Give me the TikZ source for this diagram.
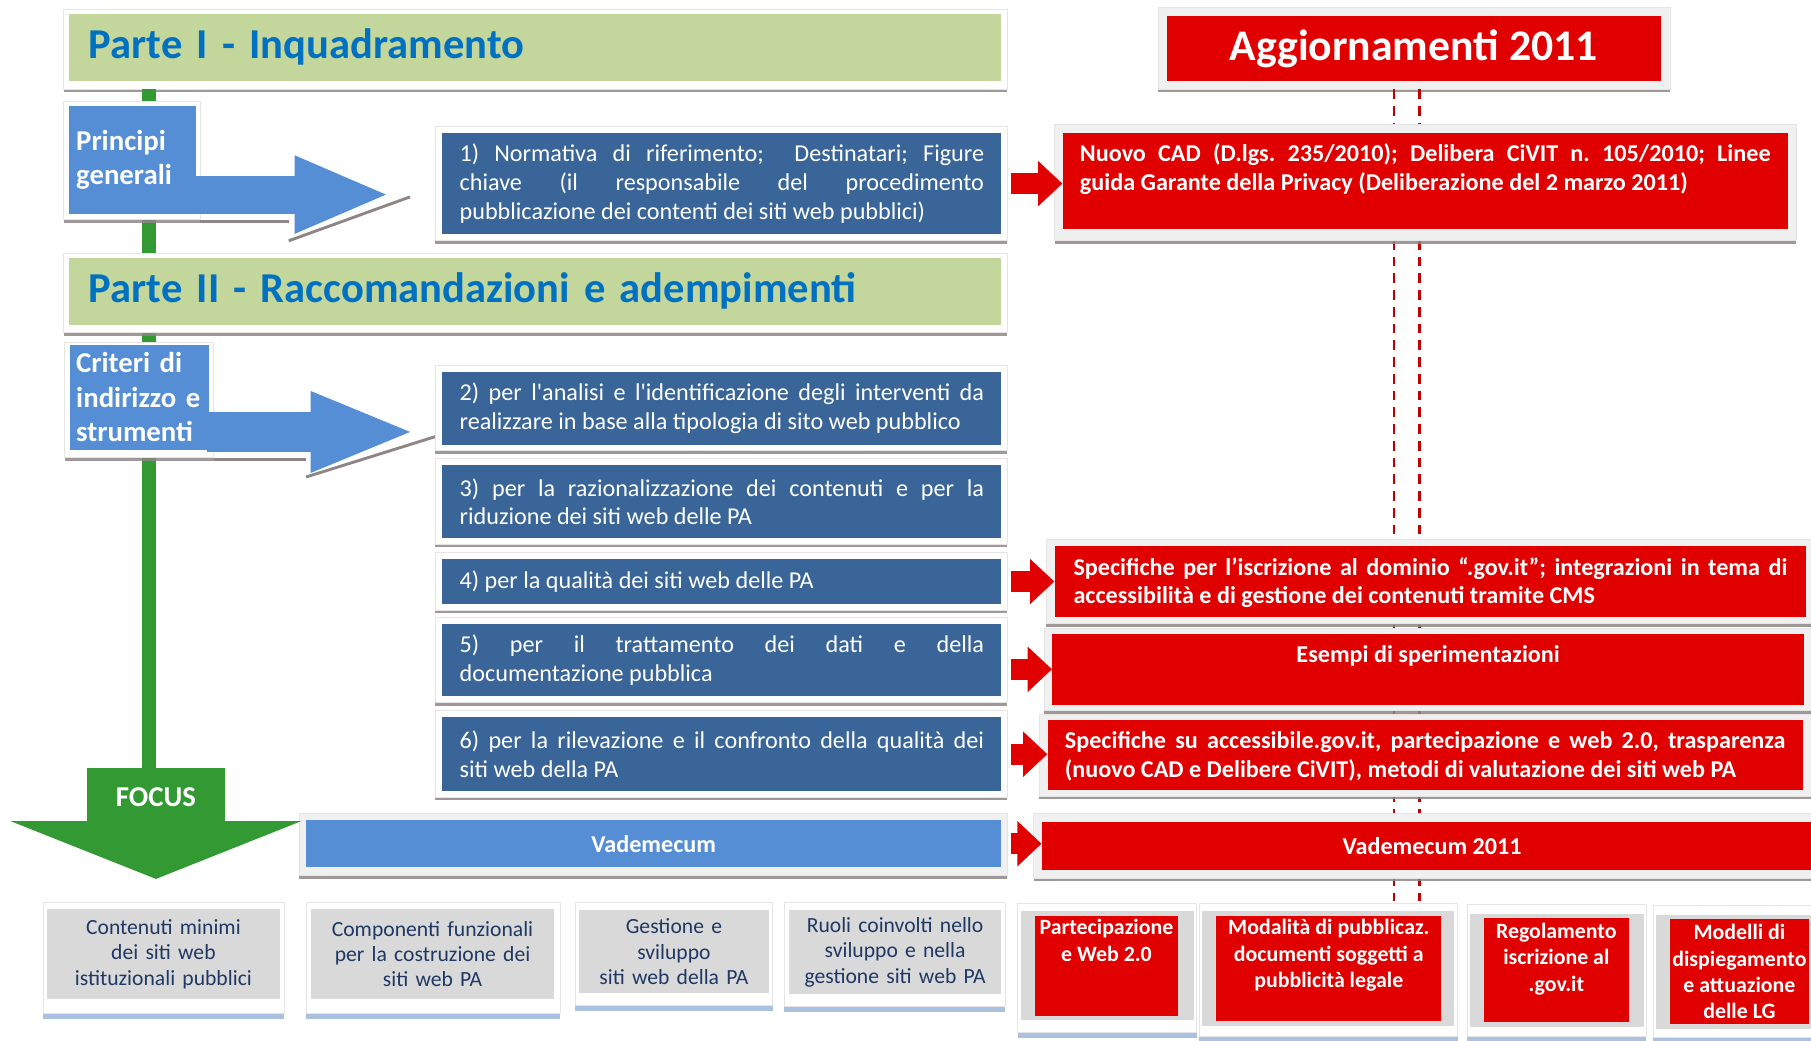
\documentclass[tikz,border=0pt]{standalone}
\usepackage{fontspec}
\setmainfont{Carlito}
\usetikzlibrary{arrows.meta,shadows}
\definecolor{hdrgreen}{HTML}{C3D69B}
\definecolor{hdrblue}{HTML}{0070C0}
\definecolor{boxblue}{HTML}{3A6598}
\definecolor{lightblue}{HTML}{558ED5}
\definecolor{updred}{HTML}{E00000}
\definecolor{dashred}{HTML}{C00000}
\definecolor{focusgreen}{HTML}{339933}
\definecolor{focusgray}{HTML}{D9D9D9}
\definecolor{focustext}{HTML}{1F3864}
\definecolor{framegray}{HTML}{F0F0F0}
\definecolor{hatchgray}{HTML}{8F8585}
\definecolor{shadowblue}{HTML}{95B3D7}
\setlength{\parindent}{0pt}
\hyphenpenalty=10000
\exhyphenpenalty=10000
\frenchspacing
\begin{document}
\begin{tikzpicture}[>=latex,line join=bevel,
  boxframe/.style={fill=white,draw=black!10,line width=0.4bp,drop shadow={shadow xshift=0bp,shadow yshift=-3bp,fill=hatchgray,opacity=0.85}},
  redframe/.style={boxframe,fill=framegray},
  focusframe/.style={fill=white,draw=black!10,line width=0.4bp,drop shadow={shadow xshift=0bp,shadow yshift=-5bp,fill=shadowblue,opacity=0.8}},
  hdr/.style={fill=hdrgreen,text=hdrblue,font=\fontsize{37}{42}\selectfont\bfseries,minimum width=807bp,minimum height=58bp,text width=773bp,inner xsep=17bp,inner ysep=0bp,align=left},
  item/.style={fill=boxblue,text=white,font=\fontsize{21}{25}\selectfont,minimum width=484bp,text width=454bp,inner xsep=15bp,inner ysep=0bp,align=justify},
  calloutbox/.style={fill=lightblue,text=white,font=\fontsize{25}{30}\selectfont\bfseries,align=left,inner ysep=0bp},
  upd/.style={fill=updred,text=white,font=\fontsize{21}{25}\selectfont\bfseries,inner ysep=0bp},
  focusbox/.style={fill=focusgray,text=focustext,font=\fontsize{18.8}{22}\selectfont,align=center,inner sep=0bp},
  newbox/.style={fill=updred,text=white,font=\fontsize{19}{23}\selectfont\bfseries,inner sep=0bp},
  updarrow/.style={draw=updred,line width=18bp,-{Triangle[width=38bp,length=21bp]},preaction={draw=white,line width=25bp,-{Triangle[width=50bp,length=29bp]}}},
  trunk/.style={draw=focusgreen,line width=12bp},
  dashline/.style={draw=dashred,line width=2.2bp,dash pattern=on 8.5bp off 6bp},
  hatchline/.style={draw=hatchgray,line width=2.5bp},
]
\useasboundingbox (0bp,0bp) rectangle (1568bp,901bp);
%%
\node (hdr_1_frame) at (463.5bp,858.5bp) [boxframe,minimum width=817bp,minimum height=69bp] {};
\node (hdr_1) at (463.5bp,860bp) [hdr] {Parte I - Inquadramento};
\node (upd_0_frame) at (1224.5bp,859.5bp) [redframe,minimum width=443bp,minimum height=71bp] {};
\node (upd_0) at (1224bp,859bp) [upd,font=\fontsize{38}{42}\selectfont\bfseries,minimum width=428bp,minimum height=57bp] {Aggiornamenti 2011};
\coordinate (trunk_end) at (129bp,236bp);
\coordinate (dash_1) at (1207bp,121bp);
\coordinate (dash_2) at (1229bp,121bp);
\draw [trunk] (hdr_1_frame.south -| trunk_end) -- (trunk_end);
\draw [dashline] (upd_0_frame.south -| dash_1) -- (dash_1);
\draw [dashline] (upd_0_frame.south -| dash_2) -- (dash_2);
%
\node (principi_frame) at (114bp,762bp) [boxframe,minimum width=118bp,minimum height=102bp] {};
\draw [hatchline] ([yshift=-1.5bp]principi_frame.south east) -- ++(77bp,0bp);
\node (principi) at (115bp,762.5bp) [calloutbox,minimum width=110bp,minimum height=93bp,text width=98bp,inner xsep=6bp] {Principi\\generali};
\coordinate (tip_1) at (338bp,732.5bp);
\draw [hatchline] ([shift={(-88bp,-40bp)}]tip_1) -- ([shift={(17bp,-2bp)}]tip_1);
\draw [draw=lightblue,line width=33bp,-{Triangle[width=61bp,length=83bp]}] ([xshift=-2bp]principi.east |- tip_1) -- (tip_1);
%
\node (hdr_2_frame) at (463.5bp,647.5bp) [boxframe,minimum width=817bp,minimum height=69bp] {};
\node (hdr_2) at (463.5bp,649bp) [hdr] {Parte II - Raccomandazioni e adempimenti};
\node (criteri_frame) at (120.5bp,555bp) [boxframe,minimum width=129bp,minimum height=100bp] {};
\draw [hatchline] ([yshift=-1.5bp]criteri_frame.south east) -- ++(80bp,0bp);
\node (criteri) at (121bp,557bp) [calloutbox,minimum width=120bp,minimum height=91bp,text width=110bp,inner xsep=5bp] {Criteri di\\indirizzo e\\strumenti};
\coordinate (tip_2) at (360bp,527bp);
\draw [hatchline] ([shift={(-95bp,-39bp)}]tip_2) -- ([shift={(17bp,-4bp)}]tip_2);
\draw [draw=lightblue,line width=34bp,-{Triangle[width=63bp,length=91bp]}] ([xshift=-2bp]criteri.east |- tip_2) -- (tip_2);
%
\node (box_1_frame) at (624.5bp,742.5bp) [boxframe,minimum width=495bp,minimum height=99bp] {};
\node (box_1) at (625bp,742bp) [item,minimum height=88bp] {\hangindent=30bp\hangafter=1\makebox[30bp][l]{1)}Normativa di riferimento;\ \ Destinatari; Figure\linebreak chiave (il responsabile del procedimento\linebreak pubblicazione dei contenti dei siti web pubblici)};
\node (box_2_frame) at (624.5bp,548bp) [boxframe,minimum width=495bp,minimum height=74bp] {};
\node (box_2) at (625bp,547.5bp) [item,minimum height=63bp] {2) per l\textquotesingle analisi e l\textquotesingle identificazione degli interventi da\linebreak realizzare in base alla tipologia di sito web pubblico};
\node (box_3_frame) at (624.5bp,467bp) [boxframe,minimum width=495bp,minimum height=74bp] {};
\node (box_3) at (625bp,466.5bp) [item,minimum height=63bp] {3) per la razionalizzazione dei contenuti e per la\linebreak riduzione dei siti web delle PA};
\node (box_4_frame) at (624.5bp,398bp) [boxframe,minimum width=495bp,minimum height=50bp] {};
\node (box_4) at (625bp,397.5bp) [item,minimum height=39bp] {4) per la qualità dei siti web delle PA};
\node (box_5_frame) at (624.5bp,330bp) [boxframe,minimum width=495bp,minimum height=74bp] {};
\node (box_5) at (625bp,329.5bp) [item,minimum height=63bp] {5) per il trattamento dei dati e della\linebreak documentazione pubblica};
\node (box_6_frame) at (624.5bp,248.5bp) [boxframe,minimum width=495bp,minimum height=75bp] {};
\node (box_6) at (625bp,248bp) [item,minimum height=64bp] {6) per la rilevazione e il confronto della qualità dei\linebreak siti web della PA};
\node (vade_frame) at (565.5bp,170bp) [redframe,minimum width=613bp,minimum height=54bp] {};
\node (vade) at (566bp,170.5bp) [calloutbox,font=\fontsize{21}{25}\selectfont\bfseries,minimum width=602bp,minimum height=41bp] {Vademecum};
%
\node (upd_1_frame) at (1234bp,743bp) [redframe,minimum width=642bp,minimum height=100bp] {};
\node (upd_1) at (1234bp,744.5bp) [upd,minimum width=628bp,minimum height=83bp,inner xsep=15bp] {\parbox[c][83bp][t]{598bp}{\rule{0pt}{25bp}Nuovo CAD (D.lgs. 235/2010); Delibera CiVIT n. 105/2010; Linee\linebreak guida Garante della Privacy (Deliberazione del 2 marzo 2011)}};
\node (upd_2_frame) at (1238bp,397.5bp) [redframe,minimum width=664bp,minimum height=73bp] {};
\node (upd_2) at (1238.5bp,397.5bp) [upd,minimum width=651bp,minimum height=61bp,inner xsep=16.5bp] {\parbox[c][61bp][t]{618bp}{\rule{0pt}{25bp}Specifiche per l’iscrizione al dominio “.gov.it”; integrazioni in tema di\linebreak accessibilità e di gestione dei contenuti tramite CMS}};
\node (upd_3_frame) at (1237bp,321.5bp) [redframe,minimum width=666bp,minimum height=71bp] {};
\node (upd_3) at (1236.5bp,321.5bp) [upd,minimum width=651bp,minimum height=61bp,inner xsep=16.5bp] {\parbox[c][61bp][t]{618bp}{\centering\rule{0pt}{25bp}Esempi di sperimentazioni}};
\node (upd_4_frame) at (1235bp,247.5bp) [redframe,minimum width=670bp,minimum height=71bp] {};
\node (upd_4) at (1234bp,247.5bp) [upd,minimum width=654bp,minimum height=61bp,inner xsep=15bp] {\parbox[c][61bp][t]{624bp}{\rule{0pt}{25bp}Specifiche su accessibile.gov.it, partecipazione e web 2.0, trasparenza\linebreak (nuovo CAD e Delibere CiVIT), metodi di valutazione dei siti web PA}};
\node (upd_5_frame) at (1237.5bp,169bp) [redframe,minimum width=685bp,minimum height=56bp] {};
\node (upd_5) at (1240bp,168.5bp) [upd,minimum width=676bp,minimum height=41bp] {Vademecum 2011};
%
\draw [updarrow] ([xshift=8bp]box_1.east) -- (box_1.east -| upd_1.west);
\draw [updarrow] ([xshift=8bp]box_4.east) -- (box_4.east -| upd_2.west);
\draw [updarrow] ([xshift=8bp]box_5.east |- upd_3.west) -- (upd_3.west);
\draw [updarrow] ([xshift=8bp]box_6.east) -- (box_6.east -| upd_4.west);
\draw [updarrow] ([xshift=8bp]vade.east) -- (vade.east -| upd_5.west);
%
\coordinate (focus_top) at (135bp,236bp);
\coordinate (focus_tip) at (135bp,140bp);
\draw [draw=focusgreen,line width=120bp,-{Triangle[width=250bp,length=50bp]}] (focus_top) -- (focus_tip);
\node (focus) at (135bp,211bp) [text=white,font=\fontsize{25}{28}\selectfont\bfseries] {FOCUS};
%
\node (focus_1_frame) at (141.5bp,72bp) [focusframe,minimum width=209bp,minimum height=96bp] {};
\node (focus_1) at (141.5bp,75bp) [focusbox,minimum width=201bp,minimum height=78bp,text width=201bp] {Contenuti minimi\\dei siti web\\istituzionali pubblici};
\node (focus_2_frame) at (375bp,72bp) [focusframe,minimum width=220bp,minimum height=96bp] {};
\node (focus_2) at (374.5bp,75bp) [focusbox,minimum width=211bp,minimum height=78bp,text width=211bp] {Componenti funzionali\\per la costruzione dei\\siti web PA};
\node (focus_3_frame) at (583.5bp,75.5bp) [focusframe,minimum width=171bp,minimum height=89bp] {};
\node (focus_3) at (583.5bp,77bp) [focusbox,minimum width=165bp,minimum height=72bp,text width=165bp] {Gestione e\\sviluppo\\siti web della PA};
\node (focus_4_frame) at (774.5bp,75bp) [focusframe,minimum width=191bp,minimum height=90bp] {};
\node (focus_4) at (775bp,76.5bp) [focusbox,minimum width=184bp,minimum height=73bp,text width=184bp] {Ruoli coinvolti nello\\sviluppo e nella\\gestione siti web PA};
%
\node (new_1_frame) at (958.5bp,63bp) [focusframe,minimum width=155bp,minimum height=112bp] {};
\node (new_1_pad) at (959bp,65bp) [fill=focusgray,minimum width=150bp,minimum height=94bp] {};
\node (new_1) at (958bp,64.5bp) [newbox,minimum width=124bp,minimum height=87bp] {\parbox[c][87bp][t]{124bp}{\centering\rule{0pt}{16.5bp}Partecipazione\\e Web 2.0}};
\node (new_2_frame) at (1150bp,61.5bp) [focusframe,minimum width=224bp,minimum height=115bp] {};
\node (new_2_pad) at (1150bp,62.5bp) [fill=focusgray,minimum width=218bp,minimum height=99bp] {};
\node (new_2) at (1150.5bp,62.5bp) [newbox,minimum width=195bp,minimum height=91bp] {\parbox[c][91bp][t]{195bp}{\centering\rule{0pt}{16.5bp}Modalità di pubblicaz.\\documenti soggetti a\\pubblicità legale}};
\node (new_3_frame) at (1347.5bp,61bp) [focusframe,minimum width=155bp,minimum height=114bp] {};
\node (new_3_pad) at (1348bp,61bp) [fill=focusgray,minimum width=150bp,minimum height=98bp] {};
\node (new_3) at (1347.5bp,61bp) [newbox,minimum width=125bp,minimum height=90bp] {\parbox[c][90bp][t]{125bp}{\centering\rule{0pt}{17.5bp}Regolamento\\iscrizione al\\.gov.it}};
\node (new_4_frame) at (1510.5bp,60bp) [focusframe,minimum width=159bp,minimum height=114bp] {};
\node (new_4_pad) at (1512bp,59.5bp) [fill=focusgray,minimum width=156bp,minimum height=99bp] {};
\node (new_4) at (1506bp,59.5bp) [newbox,minimum width=120bp,minimum height=91bp] {\parbox[c][91bp][t]{120bp}{\centering\rule{0pt}{17.5bp}Modelli di\\dispiegamento\\e attuazione\\delle LG}};
%
\end{tikzpicture}
\end{document}
